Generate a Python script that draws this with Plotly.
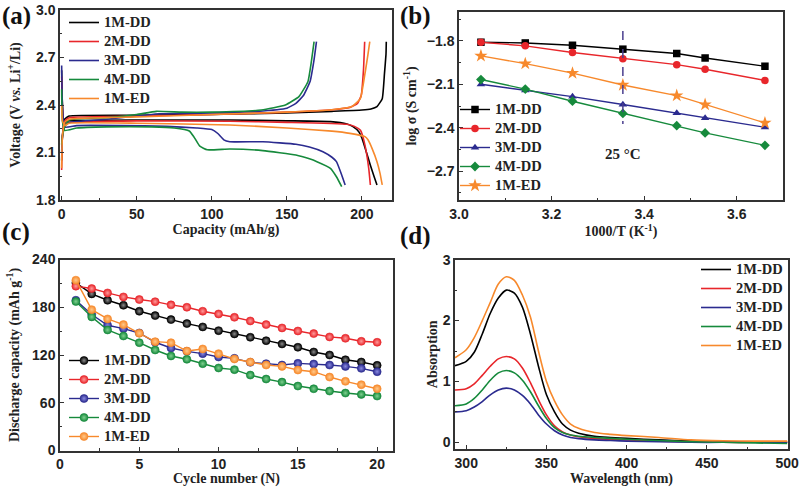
import plotly.graph_objects as go

names = ["1M-DD", "2M-DD", "3M-DD", "4M-DD", "1M-ED"]
colors = ["#000000", "#e8262b", "#2b2b8f", "#168a3c", "#f7892c"]

# (a) discharge / charge profiles, capacity (mAh/g) and voltage (V)
dis_cap = [
    [0, 0.5, 1.5, 5, 50, 112, 150, 179, 190, 194, 198, 200, 203, 205.6, 208, 210],
    [0, 0.5, 1.5, 5, 50, 112, 150, 190, 195, 199, 202, 204.5, 205.6],
    [0, 0.5, 2, 10, 40, 70, 90, 100, 104, 108, 112, 134, 156, 165, 174, 180, 183, 186.5, 188.8],
    [0, 0.5, 2, 10, 30, 60, 75, 85, 88, 92, 97, 112, 134, 156, 165, 170, 179, 183, 186.5],
    [0, 0.5, 2, 5, 50, 112, 150, 180, 192, 202, 204, 206.7, 210, 212, 213.5],
]
dis_v = [
    [2.62, 2.4, 2.29, 2.30, 2.305, 2.305, 2.30, 2.295, 2.28, 2.263, 2.23, 2.19, 2.1, 2.02, 1.95, 1.895],
    [2.58, 2.4, 2.28, 2.29, 2.30, 2.297, 2.29, 2.278, 2.265, 2.24, 2.147, 2.0, 1.895],
    [2.65, 2.4, 2.26, 2.27, 2.27, 2.265, 2.255, 2.245, 2.22, 2.18, 2.168, 2.168, 2.152, 2.135, 2.105, 2.07, 2.042, 1.958, 1.895],
    [2.5, 2.3, 2.24, 2.255, 2.262, 2.262, 2.255, 2.236, 2.2, 2.14, 2.117, 2.122, 2.112, 2.084, 2.06, 2.042, 2.0, 1.947, 1.884],
    [2.4, 2.3, 2.27, 2.285, 2.285, 2.274, 2.255, 2.235, 2.221, 2.2, 2.18, 2.126, 2.042, 1.97, 1.895],
]
chg_cap = [
    [0, 0.5, 2, 5, 50, 100, 150, 180, 200, 206, 210, 213.5, 215, 216, 216.2],
    [0, 0.5, 2, 5, 50, 100, 150, 180, 192, 197, 199.5, 201, 201.8],
    [0, 0.5, 2, 5, 30, 55, 65, 100, 130, 150, 156, 161, 165.5, 168, 169.7],
    [0, 0.5, 2, 5, 30, 50, 63, 80, 100, 133, 149, 158, 164, 166.3, 168.1],
    [0, 0.5, 2, 5, 50, 100, 150, 180, 193.3, 198.9, 202.2, 204, 205.2],
]
chg_v = [
    [2.05, 2.2, 2.31, 2.33, 2.335, 2.34, 2.35, 2.36, 2.368, 2.375, 2.39, 2.44, 2.6, 2.72, 2.8],
    [1.99, 2.2, 2.30, 2.32, 2.33, 2.34, 2.355, 2.37, 2.385, 2.41, 2.46, 2.62, 2.8],
    [2.1, 2.2, 2.27, 2.29, 2.31, 2.335, 2.345, 2.35, 2.36, 2.38, 2.41, 2.46, 2.55, 2.68, 2.8],
    [2.15, 2.2, 2.26, 2.305, 2.32, 2.34, 2.36, 2.355, 2.355, 2.368, 2.40, 2.453, 2.547, 2.674, 2.8],
    [2.0, 2.2, 2.29, 2.31, 2.325, 2.34, 2.355, 2.37, 2.39, 2.44, 2.61, 2.72, 2.8],
]

# (b) Arrhenius plot, 1000/T and log sigma
temps_c = [55, 45, 35, 25, 15, 10, 0]
log_sigma = [
    [-1.809, -1.814, -1.83, -1.857, -1.887, -1.918, -1.975],
    [-1.809, -1.834, -1.88, -1.923, -1.964, -1.996, -2.073],
    [-2.10, -2.142, -2.185, -2.24, -2.299, -2.333, -2.397],
    [-2.067, -2.133, -2.217, -2.301, -2.386, -2.436, -2.522],
    [-1.903, -1.957, -2.023, -2.105, -2.178, -2.24, -2.367],
]
ref_temp_c = 25
ref_line_y = [-1.732, -2.374]
ref_label_y = -2.58
symbols = ["square", "circle", "triangle-up", "diamond", "star"]

# (c) cycling, discharge capacity (mAh/g)
cycles = list(range(1, 21))
capacity = [
    [210.6, 196.8, 188.8, 182.5, 175.0, 169.5, 164.5, 159.5, 155.3, 150.6,
     146.5, 142.3, 138.0, 133.9, 129.7, 123.8, 120.0, 114.0, 111.2, 107.0],
    [206.5, 203.5, 198.0, 193.0, 189.7, 187.0, 183.0, 180.0, 175.0, 171.6,
     167.4, 162.8, 158.2, 154.0, 150.2, 146.9, 142.7, 141.0, 137.2, 136.0],
    [188.8, 170.8, 157.4, 153.2, 147.7, 136.0, 128.8, 124.6, 121.7, 117.5,
     115.8, 110.8, 109.1, 107.4, 109.5, 108.7, 107.4, 105.7, 103.2, 99.0],
    [187.2, 167.9, 151.5, 143.9, 135.5, 126.3, 118.8, 114.6, 109.1, 103.7,
     101.6, 94.8, 89.8, 86.0, 81.0, 77.6, 74.7, 72.2, 70.5, 68.4],
    [214.0, 177.0, 165.3, 158.2, 147.3, 136.8, 135.5, 125.0, 127.6, 121.7,
     115.0, 111.2, 107.4, 105.7, 101.1, 99.0, 92.3, 86.9, 82.7, 77.6],
]
light = ["#8a8a8a", "#ff9a9a", "#8a8ae0", "#7fd08f", "#ffc98a"]

# (d) UV-vis absorption
wl = [293, 300, 305, 310, 315, 320, 325, 330, 335, 340, 345, 350, 355, 360,
      365, 370, 380, 390, 400, 420, 440, 460, 480, 500]
absorb = [
    [1.26, 1.33, 1.48, 1.78, 2.12, 2.37, 2.50, 2.45, 2.22, 1.78, 1.25, 0.78, 0.50, 0.30,
     0.20, 0.15, 0.10, 0.08, 0.065, 0.04, 0.02, 0.01, 0.0, 0.0],
    [0.86, 0.88, 0.96, 1.10, 1.25, 1.37, 1.41, 1.37, 1.22, 0.98, 0.70, 0.45, 0.27, 0.17,
     0.12, 0.09, 0.06, 0.05, 0.04, 0.02, 0.01, 0.0, 0.0, 0.0],
    [0.50, 0.52, 0.58, 0.67, 0.78, 0.86, 0.89, 0.86, 0.77, 0.63, 0.45, 0.30, 0.19, 0.12,
     0.08, 0.06, 0.04, 0.03, 0.02, 0.01, 0.0, 0.0, 0.0, 0.0],
    [0.60, 0.63, 0.72, 0.86, 1.02, 1.14, 1.18, 1.14, 1.02, 0.83, 0.60, 0.39, 0.24, 0.16,
     0.12, 0.10, 0.08, 0.065, 0.05, 0.03, 0.01, 0.0, -0.01, -0.02],
    [1.39, 1.52, 1.72, 2.00, 2.30, 2.60, 2.72, 2.66, 2.42, 2.06, 1.50, 1.00, 0.68, 0.45,
     0.30, 0.23, 0.16, 0.13, 0.11, 0.08, 0.04, 0.025, 0.02, 0.02],
]

W, H = 800, 487
SERIF = "Liberation Serif, Times New Roman, serif"
SANS = "Liberation Sans, Arial, sans-serif"


def leg_name(n):
    # bigger text than the legend's own font, so the rows stay tight
    return '<span style="font-size:14.5px">' + n + "</span>"


fig = go.Figure()

for i, n in enumerate(names):
    fig.add_trace(go.Scatter(
        x=dis_cap[i] + [None] + chg_cap[i], y=dis_v[i] + [None] + chg_v[i],
        mode="lines", name=leg_name(n), line=dict(color=colors[i], width=1.6, shape="spline", smoothing=0.4),
        xaxis="x", yaxis="y", legend="legend"))

inv_t = [1000 / (t + 273.15) for t in temps_c]
for i, n in enumerate(names):
    fig.add_trace(go.Scatter(
        x=inv_t, y=log_sigma[i], mode="lines+markers", name=leg_name(n),
        line=dict(color=colors[i], width=1.4),
        marker=dict(symbol=symbols[i], size=10 if symbols[i] == "star" else 7.5, color=colors[i],
                    line=dict(width=0)),
        xaxis="x2", yaxis="y2", legend="legend2"))
t_ref = 1000 / (ref_temp_c + 273.15)
fig.add_trace(go.Scatter(x=[t_ref, t_ref], y=ref_line_y, mode="lines", showlegend=False,
                         line=dict(color="#4b3f8f", width=1.5, dash="dash"),
                         xaxis="x2", yaxis="y2"))
fig.add_annotation(x=t_ref, y=ref_label_y, xref="x2", yref="y2", text="25 °C", showarrow=False,
                   font=dict(family=SERIF, size=15, color="#222", weight="bold"))

for i, n in enumerate(names):
    fig.add_trace(go.Scatter(
        x=cycles, y=capacity[i], mode="lines+markers", name=leg_name(n),
        line=dict(color=colors[i], width=1.4),
        marker=dict(symbol="circle", size=8, color=colors[i],
                    gradient=dict(type="radial", color=light[i]),
                    line=dict(width=0.6, color=colors[i])),
        xaxis="x3", yaxis="y3", legend="legend3"))

for i, n in enumerate(names):
    fig.add_trace(go.Scatter(
        x=wl, y=absorb[i], mode="lines", name=leg_name(n),
        line=dict(color=colors[i], width=1.6, shape="spline", smoothing=0.8),
        xaxis="x4", yaxis="y4", legend="legend4"))


def px_x(a, b):
    return [a / W, b / W]


def px_y(top, bottom):
    return [1 - bottom / H, 1 - top / H]


tickfont = dict(family=SANS, size=14, color="#222", weight="bold")
titlefont = dict(family=SERIF, size=14, color="#222", weight="bold")


def ax(domain, rng, dtick, tick0, minor_dtick, title, anchor, fmt=None, standoff=2):
    d = dict(domain=domain, range=rng, dtick=dtick, tick0=tick0, anchor=anchor,
             automargin=False,
             showline=True, linecolor="#333", linewidth=1.5, mirror=True,
             ticks="inside", ticklen=4, tickwidth=1.3, tickcolor="#333",
             minor=dict(dtick=minor_dtick, ticks="inside", ticklen=2.5, tickwidth=1.2, tickcolor="#333"),
             showgrid=False, zeroline=False, tickfont=tickfont,
             title=dict(text=title, font=titlefont, standoff=standoff))
    if fmt:
        d["tickformat"] = fmt
    return d


legfont = dict(family=SERIF, size=12.3, color="#222", weight="bold")

fig.update_layout(
    width=W, height=H, margin=dict(l=0, r=0, t=0, b=0, autoexpand=False),
    paper_bgcolor="white", plot_bgcolor="white",
    xaxis=ax(px_x(60, 392), [-1.1, 220], 50, 0, 25, "Capacity (mAh/g)", "y"),
    yaxis=ax(px_y(10, 200), [1.8, 3.0], 0.3, 1.8, 0.15, "Voltage (V <i>vs.</i> Li<sup>+</sup>/Li)", "x",
             ".1f", standoff=12),
    xaxis2=ax(px_x(459, 783), [3.0, 3.7], 0.2, 3.0, 0.1, "1000/T (K<sup>-1</sup>)", "y2", ".1f"),
    yaxis2=ax(px_y(12, 200), [-2.9, -1.6], 0.3, -1.8, 0.15, "log σ (S cm<sup>-1</sup>)", "x2",
              ".1f", standoff=7),
    xaxis3=ax(px_x(60, 393), [0, 21], 5, 0, 2.5, "Cycle number (N)", "y3"),
    yaxis3=ax(px_y(259.5, 450.5), [0, 240], 60, 0, 30, "Discharge capacity (mAh g<sup>-1</sup>)", "x3",
              standoff=9),
    xaxis4=ax(px_x(455, 788), [293, 500.5], 50, 300, 25, "Wavelength (nm)", "y4"),
    yaxis4=ax(px_y(259.7, 449), [-0.11, 3], 1, 0, 0.5, "Absorption", "x4"),
    legend=dict(x=64 / W, y=1 - 8 / H, xanchor="left", yanchor="top", font=legfont,
                bgcolor="rgba(0,0,0,0)", itemwidth=30),
    legend2=dict(x=455 / W, y=1 - 95 / H, xanchor="left", yanchor="top", font=legfont,
                 bgcolor="rgba(0,0,0,0)", itemwidth=30),
    legend3=dict(x=64 / W, y=1 - 346 / H, xanchor="left", yanchor="top", font=legfont,
                 bgcolor="rgba(0,0,0,0)", itemwidth=30),
    legend4=dict(x=788 / W, y=1 - 255 / H, xanchor="right", yanchor="top", font=legfont,
                 bgcolor="rgba(0,0,0,0)", itemwidth=30),
)

for lab, xx, yy in [("(a)", 0, 0), ("(b)", 398, 0), ("(c)", 0, 216), ("(d)", 398, 220)]:
    fig.add_annotation(x=xx / W, y=1 - yy / H, xref="paper", yref="paper", xanchor="left", yanchor="top",
                       text=lab, showarrow=False,
                       font=dict(family=SERIF, size=25, color="#111", weight="bold"))

# the page's default body margin would push the whole figure 8 px right and down
fig.write_html("out.html", config={"displayModeBar": False},
               post_script="document.body.style.margin='0px';")
